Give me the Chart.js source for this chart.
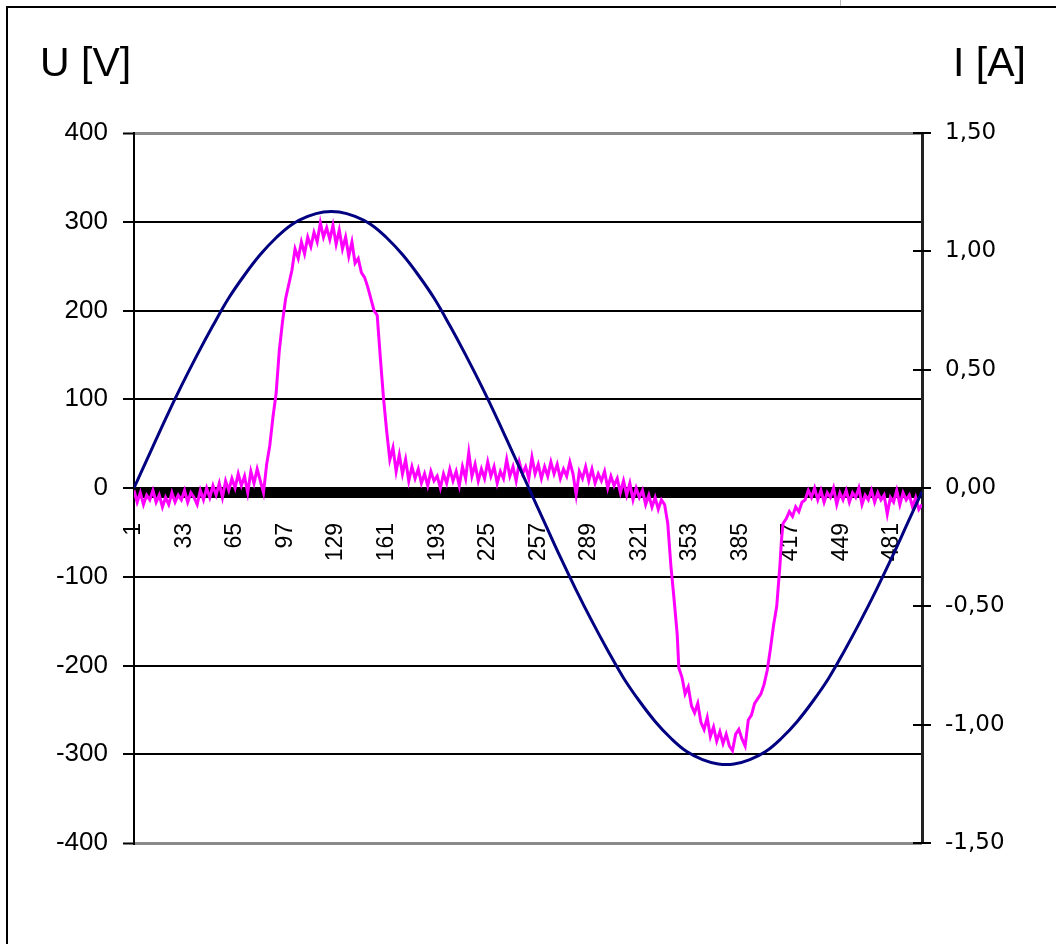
<!DOCTYPE html>
<html lang="de">
<head>
<meta charset="UTF-8">
<title>U / I</title>
<script src="https://cdn.jsdelivr.net/npm/chart.js"></script>
<style>
  html, body { margin: 0; padding: 0; background: #fff; }
  #wrap { position: relative; width: 1056px; height: 944px; }
</style>
</head>
<body>
<div id="wrap"><canvas id="chart" width="1056" height="944"></canvas></div>
<script>
// sample numbers shown under the axis
const xTickLabels = [1, 33, 65, 97, 129, 161, 193, 225, 257, 289, 321, 353, 385, 417, 449, 481];

// voltage U [V], read every 10 samples
const uSamples = [1, 11, 21, 31, 41, 51, 61, 71, 81, 91, 101, 111, 121, 131, 141, 151, 161, 171, 181, 191,
  201, 211, 221, 231, 241, 251, 261, 271, 281, 291, 301, 311, 321, 331, 341, 351, 361, 371, 381, 391,
  401, 411, 421, 431, 441, 451, 461, 471, 481, 491, 500];
const uVolts = [0, 39, 78, 115, 150, 183, 214, 240, 263, 282, 297, 306, 311, 311, 306, 297, 282, 263, 240, 214,
  183, 150, 115, 78, 39, 0, -39, -78, -115, -150, -183, -214, -240, -263, -282, -297, -306, -311, -311, -306,
  -297, -282, -263, -240, -214, -183, -150, -115, -78, -39, -4];

// current I [A]
const iSamples = [
  1, 3, 5, 7, 9, 11, 13, 15, 17, 19, 21, 23, 25, 27, 29, 31, 33, 35, 37, 39,
  41, 43, 45, 47, 49, 51, 53, 55, 57, 59, 61, 63, 65, 67, 69, 71, 73, 75, 77, 79, 81, 83,
  85, 87, 89, 91, 93, 95, 97, 99, 101, 103, 105, 107, 109, 111, 113, 115, 117, 119, 121, 123,
  125, 127, 129, 131, 133, 135, 137, 139, 141, 143, 145, 147, 149, 151, 153, 155, 157, 159, 161, 163,
  165, 167, 169, 171, 173, 175, 177, 179, 181, 183, 185, 187, 189, 191, 193, 195, 197, 199,
  201, 203, 205, 207, 209, 211, 213, 215, 217, 219, 221, 223, 225, 227, 229, 231, 233, 235, 237, 239,
  241, 243, 245, 247, 249, 251, 253, 255, 257, 259, 261, 263, 265, 267, 269, 271, 273, 275, 277, 279,
  281, 283, 285, 287, 289, 291, 293, 295, 297, 299, 301, 303, 305, 307, 309, 311, 313, 315, 317, 319,
  321, 323, 325, 327, 329, 331, 333, 335,
  337, 339, 341, 343, 345, 346, 348, 350, 352, 354, 356, 358, 360, 362, 364, 366, 368, 370, 372, 374,
  376, 378, 380, 382, 384, 386, 388, 390, 392, 394, 396, 398, 400, 402, 404, 406, 408, 410, 411, 412,
  414, 416, 418, 420, 422, 424, 426, 428,
  430, 432, 434, 436, 438, 440, 442, 444, 446, 448, 450, 452, 454, 456, 458, 460, 462, 464, 466, 468,
  470, 472, 474, 476, 478, 480, 482, 484, 486, 488, 490, 492, 494, 496, 498, 500];
const iAmps = [
  -0.01, -0.06, -0.02, -0.07, -0.03, -0.05, -0.01, -0.06, -0.03, -0.08, -0.04, -0.07, -0.02, -0.06, -0.03, -0.05, -0.01, -0.06, -0.02, -0.04,
  -0.07, -0.01, -0.05, 0.00, -0.04, 0.01, -0.03, 0.02, -0.04, 0.03, -0.01, 0.04, 0.00, 0.06, 0.01, 0.05, -0.02, 0.07, 0.02, 0.08, 0.03, -0.02,
  0.10, 0.18, 0.30, 0.40, 0.58, 0.70, 0.80, 0.86, 0.92, 1.01, 0.97, 1.04, 0.99, 1.06, 1.02, 1.08, 1.04, 1.12, 1.06, 1.10,
  1.05, 1.11, 1.03, 1.09, 1.01, 1.06, 0.98, 1.04, 0.95, 0.97, 0.91, 0.89, 0.85, 0.80, 0.75, 0.73, 0.55, 0.38, 0.24, 0.12,
  0.17, 0.07, 0.14, 0.06, 0.12, 0.03, 0.09, 0.04, 0.08, 0.02, 0.06, 0.01, 0.07, 0.03, 0.05, 0.00, 0.06, 0.02,
  0.08, 0.03, 0.07, 0.01, 0.09, 0.04, 0.15, 0.05, 0.10, 0.03, 0.08, 0.04, 0.11, 0.05, 0.09, 0.02, 0.07, 0.04, 0.12, 0.05,
  0.09, 0.03, 0.11, 0.06, 0.09, 0.04, 0.13, 0.06, 0.10, 0.04, 0.09, 0.05, 0.11, 0.06, 0.10, 0.04, 0.08, 0.05, 0.11, 0.06,
  -0.03, 0.07, 0.04, 0.09, 0.03, 0.08, 0.02, 0.06, 0.03, 0.07, 0.00, 0.05, 0.01, 0.04, -0.02, 0.03, -0.03, 0.02, -0.05, 0.00,
  -0.04, -0.01, -0.07, -0.03, -0.08, -0.04, -0.09, -0.05,
  -0.07, -0.15, -0.33, -0.47, -0.62, -0.76, -0.80, -0.87, -0.84, -0.92, -0.95, -0.91, -0.99, -1.02, -0.97, -1.05, -1.01, -1.07, -1.03, -1.08,
  -1.04, -1.09, -1.11, -1.04, -1.02, -1.06, -1.09, -0.98, -0.96, -0.91, -0.89, -0.87, -0.83, -0.77, -0.68, -0.58, -0.50, -0.33, -0.22, -0.15,
  -0.13, -0.10, -0.12, -0.08, -0.10, -0.06, -0.05, -0.01,
  -0.04, 0.00, -0.05, -0.01, -0.06, -0.02, -0.04, 0.00, -0.07, -0.02, -0.05, -0.01, -0.06, -0.02, -0.04, 0.00, -0.07, -0.03, -0.05, -0.01,
  -0.06, -0.02, -0.05, -0.03, -0.11, -0.04, -0.06, -0.01, -0.07, -0.02, -0.05, -0.03, -0.08, -0.04, -0.09, -0.07];

const uTitle = 'U [V]';
const iTitle = 'I [A]';

// frame, axis titles, thick zero band and crossing ticks on the right axis
const decor = {
  id: 'decor',
  beforeDraw(chart) {
    const ctx = chart.ctx;
    ctx.save();
    ctx.fillStyle = '#fff';
    ctx.fillRect(0, 0, chart.width, chart.height);
    ctx.strokeStyle = '#000';
    ctx.lineWidth = 2;
    ctx.beginPath();
    ctx.moveTo(chart.width, 7);
    ctx.lineTo(7, 7);
    ctx.lineTo(7, chart.height);
    ctx.stroke();
    ctx.strokeStyle = '#bbb';
    ctx.lineWidth = 1;
    ctx.beginPath();
    ctx.moveTo(840.5, 0);
    ctx.lineTo(840.5, 6);
    ctx.stroke();
    ctx.fillStyle = '#000';
    ctx.font = '41px "Liberation Sans", Arial, sans-serif';
    ctx.textBaseline = 'alphabetic';
    ctx.textAlign = 'left';
    ctx.fillText(uTitle, 40, 76);
    ctx.fillText(iTitle, 953, 76);
    ctx.restore();
  },
  beforeDatasetsDraw(chart) {
    const {ctx, chartArea} = chart;
    const y0 = chart.scales.y.getPixelForValue(0);
    ctx.save();
    ctx.fillStyle = '#000';
    ctx.fillRect(chartArea.left, y0, chartArea.right - chartArea.left, 10);
    ctx.restore();
  },
  afterDraw(chart) {
    const {ctx, chartArea} = chart;
    const s = chart.scales.y1;
    ctx.save();
    ctx.strokeStyle = '#000';
    ctx.lineWidth = 2;
    s.ticks.forEach(t => {
      const y = Math.round(s.getPixelForValue(t.value));
      ctx.beginPath();
      ctx.moveTo(chartArea.right - 9, y);
      ctx.lineTo(chartArea.right + 9, y);
      ctx.stroke();
    });
    ctx.restore();
  }
};

new Chart(document.getElementById('chart'), {
  type: 'line',
  data: {
    datasets: [
      {
        label: 'U',
        data: uSamples.map((s, k) => ({x: s, y: uVolts[k]})),
        yAxisID: 'y',
        borderColor: '#000080',
        borderWidth: 3,
        pointRadius: 0,
        tension: 0.4
      },
      {
        label: 'I',
        data: iSamples.map((s, k) => ({x: s, y: iAmps[k]})),
        yAxisID: 'y1',
        borderColor: '#ff00ff',
        borderWidth: 3,
        pointRadius: 0,
        tension: 0
      }
    ]
  },
  options: {
    responsive: false,
    devicePixelRatio: 1,
    animation: false,
    events: [],
    layout: {padding: {top: 133, bottom: 101, left: 0, right: 0}},
    plugins: {legend: {display: false}, tooltip: {enabled: false}},
    scales: {
      x: {
        type: 'linear',
        min: 1,
        max: 500,
        position: {y: 0},
        grid: {display: false},
        border: {display: false},
        afterBuildTicks: scale => { scale.ticks = xTickLabels.map(v => ({value: v})); },
        ticks: {
          autoSkip: false,
          minRotation: 90,
          maxRotation: 90,
          padding: 27,
          color: '#000',
          font: {family: '"Liberation Sans", Arial, sans-serif', size: 23},
          callback: v => String(v)
        }
      },
      y: {
        position: 'left',
        min: -400,
        max: 400,
        afterFit: scale => { scale.width = 134; },
        grid: {
          color: c => (c.tick && Math.abs(c.tick.value) === 400) ? '#8a8a8a' : '#000',
          lineWidth: c => (c.tick && Math.abs(c.tick.value) === 400) ? 3 : 2,
          tickColor: '#000',
          tickWidth: 2,
          tickLength: 11
        },
        border: {color: '#000', width: 2},
        ticks: {
          stepSize: 100,
          padding: 15,
          color: '#000',
          font: {family: '"Liberation Sans", Arial, sans-serif', size: 26},
          callback: v => String(v)
        }
      },
      y1: {
        position: 'right',
        min: -1.5,
        max: 1.5,
        afterFit: scale => { scale.width = 134; },
        grid: {drawOnChartArea: false, drawTicks: false},
        border: {color: '#222', width: 3},
        ticks: {
          stepSize: 0.5,
          padding: 23,
          color: '#000',
          font: {family: '"DejaVu Sans", Verdana, sans-serif', size: 23},
          callback: v => v.toFixed(2).replace('.', ',')
        }
      }
    }
  },
  plugins: [decor]
});
</script>
</body>
</html>
